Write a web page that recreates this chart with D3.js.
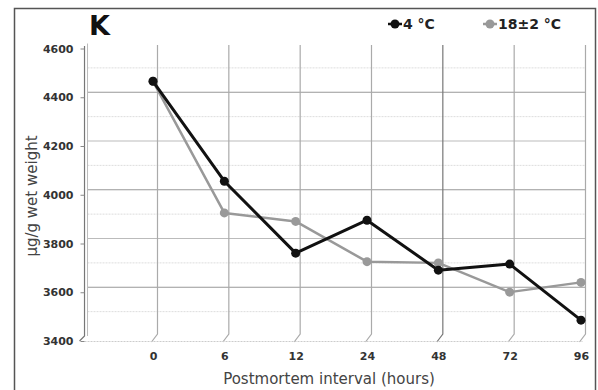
<!DOCTYPE html>
<html>
<head>
<meta charset="utf-8">
<script src="https://cdn.jsdelivr.net/npm/d3@7"></script>
<style>
    body { margin: 0; background: #fff; }
    .tick-label { font-family: 'DejaVu Sans', sans-serif; font-weight: bold; font-size: 11px; fill: #333; }
    .axe-title { font-family: 'DejaVu Sans', sans-serif; font-size: 15px; fill: #444; }
    .legend-label { font-family: 'DejaVu Sans', sans-serif; font-weight: bold; font-size: 14px; fill: #222; }
</style>
</head>
<body>
<svg class="chart"></svg>
<script>
const hours = ['0', '6', '12', '24', '48', '72', '96']
const cold = [4445, 4035, 3740, 3875, 3670, 3695, 3465]
const room = [4445, 3905, 3870, 3705, 3700, 3580, 3620]
const yTicks = [3400, 3600, 3800, 4000, 4200, 4400, 4600]
const yMinor = [3500, 3700, 3900, 4100, 4300, 4500]
const series = [
    { name: '4 °C', values: cold, color: '#111', width: 3 },
    { name: '18±2 °C', values: room, color: '#999', width: 2.5 }
]

const width = 598
const height = 390
const depth = { x: 4.5, y: 5 }

const svg = d3.select('.chart').attr('width', width).attr('height', height)

const x = d3.scalePoint().domain(hours).range([153, 581])
const y = d3.scaleLinear().domain([3400, 4600]).range([336, 43.5])
const left = x(hours[0]) - x.step() * 0.96

// outer frame
svg.append('rect')
    .attr('x', 14.5).attr('y', 8.5)
    .attr('width', 581).attr('height', 392)
    .attr('fill', 'none').attr('stroke', '#555').attr('stroke-width', 1.5)

svg.append('text')
    .text('K')
    .attr('x', 89).attr('y', 35)
    .attr('font-family', 'DejaVu Sans, sans-serif')
    .attr('font-weight', 'bold').attr('font-size', 27)
    .attr('fill', '#111')

// grid
const grid = svg.append('g')

grid.selectAll('.minor')
        .data(yMinor)
    .enter().append('line')
        .attr('x1', left + 3).attr('x2', x(hours[6]) + depth.x)
        .attr('y1', d => y(d)).attr('y2', d => y(d))
        .attr('stroke', '#ddd').attr('stroke-width', 1)
        .attr('stroke-dasharray', '2,1')

grid.selectAll('.major')
        .data(yTicks.filter(d => d > 3400 && d < 4600))
    .enter().append('line')
        .attr('x1', left + 3).attr('x2', x(hours[6]) + depth.x)
        .attr('y1', d => y(d)).attr('y2', d => y(d))
        .attr('stroke', d => (d - 3600) % 400 === 0 ? '#999' : '#bbb')
        .attr('stroke-width', 1.2)

grid.selectAll('.vert')
        .data(hours)
    .enter().append('path')
        .attr('d', d => `M${x(d) + depth.x},45V${y(3400) - 2}L${x(d) - 1.5},342`)
        .attr('fill', 'none')
        .attr('stroke', d => d === '48' ? '#777' : '#aaa')
        .attr('stroke-width', 1.2)

// floor edge
svg.append('line')
    .attr('x1', left).attr('x2', x(hours[6]) + 2)
    .attr('y1', 341.5).attr('y2', 341.5)
    .attr('stroke', '#ccc').attr('stroke-dasharray', '2,1')

// back wall edge and front axis
svg.append('line')
    .attr('x1', left + 3).attr('x2', left + 3)
    .attr('y1', 43.5).attr('y2', y(3400))
    .attr('stroke', '#bbb')

svg.append('path')
    .attr('d', `M${left},46V336L${left - 5},341`)
    .attr('fill', 'none').attr('stroke', '#777').attr('stroke-width', 1.2)

const yAxis = svg.append('g')
    .attr('transform', `translate(${left}, ${depth.y})`)
    .call(d3.axisLeft(y).tickValues(yTicks).tickFormat(d3.format('d')).tickSize(4).tickPadding(7))
yAxis.select('.domain').remove()
yAxis.selectAll('line').attr('stroke', '#888')
yAxis.selectAll('text').attr('class', 'tick-label')

const xAxis = svg.append('g')
    .attr('transform', 'translate(0, 343)')
    .call(d3.axisBottom(x).tickSize(0).tickPadding(9))
xAxis.select('.domain').remove()
xAxis.selectAll('text').attr('class', 'tick-label')

svg.append('text')
    .text('Postmortem interval (hours)')
    .attr('class', 'axe-title')
    .attr('text-anchor', 'middle')
    .attr('x', 329).attr('y', 384)

svg.append('text')
    .text('μg/g wet weight')
    .attr('class', 'axe-title')
    .attr('text-anchor', 'middle')
    .attr('font-size', 16)
    .attr('transform', 'translate(37, 196) rotate(-90)')

// series
const line = d3.line().x((d, i) => x(hours[i])).y(d => y(d))

series.slice().reverse().forEach(s => {
    const g = svg.append('g')
    g.append('path')
        .attr('d', line(s.values))
        .attr('fill', 'none')
        .attr('stroke', s.color).attr('stroke-width', s.width)
        .attr('stroke-linejoin', 'round')
    g.selectAll('circle')
            .data(s.values)
        .enter().append('circle')
            .attr('cx', (d, i) => x(hours[i]))
            .attr('cy', d => y(d))
            .attr('r', 4.5)
            .attr('fill', s.color)
})

// legend
const legend = svg.selectAll('.legend')
        .data(series)
    .enter().append('g')
        .attr('transform', (d, i) => `translate(${[395, 490][i]}, 24)`)

legend.append('line')
    .attr('x1', -7).attr('x2', 7)
    .attr('stroke', d => d.color).attr('stroke-width', 2.5)
legend.append('circle')
    .attr('r', 4.5).attr('fill', d => d.color)
legend.append('text')
    .text(d => d.name)
    .attr('class', 'legend-label')
    .attr('x', 8).attr('dy', '0.36em')
</script>
</body>
</html>
